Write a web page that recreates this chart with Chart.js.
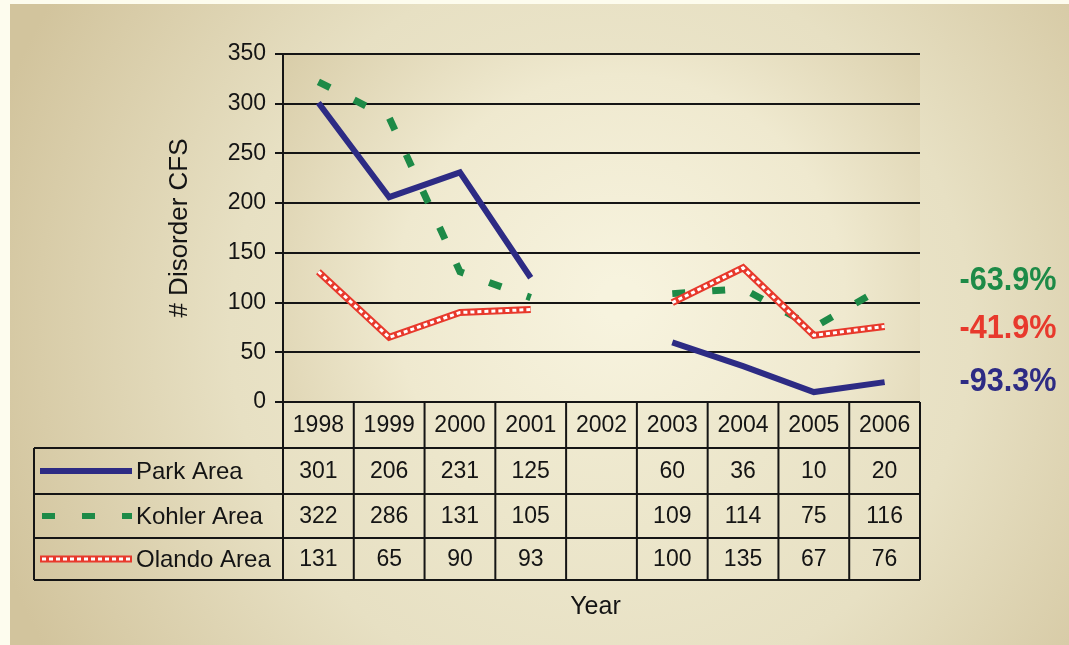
<!DOCTYPE html>
<html><head><meta charset="utf-8">
<script src="https://cdn.jsdelivr.net/npm/chart.js@4"></script>
<style>html,body{margin:0;padding:0;background:#fdfcee;}#wrap{width:1069px;height:645px;position:relative;}</style>
</head><body><div id="wrap"><canvas id="c" width="1069" height="645"></canvas></div>
<script>
const years = ['1998','1999','2000','2001','2002','2003','2004','2005','2006'];
const parkArea = [301,206,231,125,null,60,36,10,20];
const kohlerArea = [322,286,131,105,null,109,114,75,116];
const olandoArea = [131,65,90,93,null,100,135,67,76];
const seriesNames = ['Park Area','Kohler Area','Olando Area'];
const changeLabels = ['-63.9%','-41.9%','-93.3%'];
const yTicks = [0,50,100,150,200,250,300,350];

const NAVY='#2d2b84', GREEN='#1d8a47', RED='#e8392c';
const FONT='"Liberation Sans", Arial, sans-serif';
const TXT='#141414';

const bgPlugin = {
  id:'bg',
  beforeDraw(chart){
    const ctx=chart.ctx, W=chart.width, H=chart.height, a=chart.chartArea;
    ctx.save();
    ctx.fillStyle='#fdfcee'; ctx.fillRect(0,0,W,H);
    let g=ctx.createRadialGradient(600,330,40,600,330,640);
    g.addColorStop(0,'#f1ecd3'); g.addColorStop(0.55,'#e7e0c3'); g.addColorStop(1,'#d2c49d');
    ctx.fillStyle=g; ctx.fillRect(10,4,W-10,H-4);
    g=ctx.createRadialGradient(620,300,20,620,300,430);
    g.addColorStop(0,'#f7f3de'); g.addColorStop(0.5,'#efe9cf'); g.addColorStop(1,'#d7cba6');
    ctx.fillStyle=g; ctx.fillRect(a.left,a.top,a.right-a.left,a.bottom-a.top);
    ctx.restore();
  }
};

const tablePlugin = {
  id:'table',
  afterDraw(chart){
    const ctx=chart.ctx, a=chart.chartArea, xs=chart.scales.x;
    const n=years.length;
    const centers=years.map((_,i)=>xs.getPixelForValue(i));
    const bounds=[a.left];
    for(let i=0;i<n-1;i++) bounds.push((centers[i]+centers[i+1])/2);
    bounds.push(a.right);
    const rowH=[46,46,44,42];
    const rows=[a.bottom]; rowH.forEach(h=>rows.push(rows[rows.length-1]+h));
    const tableLeft=34;
    ctx.save();
    ctx.strokeStyle='#151515'; ctx.lineWidth=2;
    ctx.beginPath();
    bounds.forEach(x=>{ctx.moveTo(x,rows[0]);ctx.lineTo(x,rows[4]);});
    ctx.moveTo(tableLeft,rows[1]);ctx.lineTo(tableLeft,rows[4]);
    ctx.moveTo(a.left,rows[0]);ctx.lineTo(a.right,rows[0]);
    for(let r=1;r<=4;r++){ctx.moveTo(tableLeft,rows[r]);ctx.lineTo(a.right,rows[r]);}
    ctx.stroke();
    ctx.fillStyle=TXT; ctx.textAlign='center'; ctx.textBaseline='middle';
    ctx.font='23px '+FONT;
    const data=[parkArea,kohlerArea,olandoArea];
    years.forEach((y,i)=>ctx.fillText(y,centers[i],(rows[0]+rows[1])/2+1));
    data.forEach((arr,r)=>{
      arr.forEach((v,i)=>{ if(v!==null) ctx.fillText(String(v),centers[i],(rows[r+1]+rows[r+2])/2+1); });
    });
    ctx.textAlign='left'; ctx.font='24px '+FONT;
    const kx0=40, kx1=132;
    seriesNames.forEach((nm,r)=>{
      const yc=(rows[r+1]+rows[r+2])/2;
      ctx.fillStyle=TXT;
      ctx.fillText(nm,136,yc+1);
      ctx.beginPath(); ctx.lineCap='butt';
      if(r===0){ctx.strokeStyle=NAVY;ctx.lineWidth=6;ctx.setLineDash([]);ctx.moveTo(kx0,yc);ctx.lineTo(kx1,yc);ctx.stroke();}
      if(r===1){ctx.strokeStyle=GREEN;ctx.lineWidth=6;ctx.setLineDash([13,27]);ctx.moveTo(kx0+2,yc);ctx.lineTo(kx1,yc);ctx.stroke();}
      if(r===2){ctx.strokeStyle=RED;ctx.lineWidth=7;ctx.setLineDash([]);ctx.moveTo(kx0,yc);ctx.lineTo(kx1,yc);ctx.stroke();
        ctx.beginPath();ctx.strokeStyle='#ffffff';ctx.lineWidth=3;ctx.setLineDash([4,3]);ctx.moveTo(kx0+2,yc);ctx.lineTo(kx1-1,yc);ctx.stroke();}
      ctx.setLineDash([]);
    });
    ctx.fillStyle=TXT; ctx.textAlign='center'; ctx.font='25px '+FONT;
    ctx.fillText('Year',(a.left+a.right)/2-6,607);
    const pc=[GREEN,RED,NAVY]; const py=[280,328,381];
    ctx.font='bold 34px "Liberation Sans Narrow", "Arial Narrow", '+FONT;
    changeLabels.forEach((t,i)=>{
      const w=ctx.measureText(t).width; const sx=97/w;
      ctx.save(); ctx.translate(1008,py[i]); ctx.scale(sx,1);
      ctx.fillStyle=pc[i]; ctx.textAlign='center'; ctx.textBaseline='middle';
      ctx.fillText(t,0,1); ctx.restore();
    });
    ctx.restore();
  }
};

new Chart(document.getElementById('c'),{
  type:'line',
  data:{labels:years,datasets:[
    {label:seriesNames[2]+' dots',data:olandoArea,borderColor:'#ffffff',borderWidth:3,borderDash:[4,3],pointRadius:0,tension:0,order:0,spanGaps:false},
    {label:seriesNames[2],data:olandoArea,borderColor:RED,borderWidth:7,pointRadius:0,tension:0,order:1,borderJoinStyle:'miter',spanGaps:false},
    {label:seriesNames[1],data:kohlerArea,borderColor:GREEN,borderWidth:7,borderDash:[13,27],pointRadius:0,tension:0,order:2,spanGaps:false},
    {label:seriesNames[0],data:parkArea,borderColor:NAVY,borderWidth:6,pointRadius:0,tension:0,order:3,borderJoinStyle:'miter',spanGaps:false}
  ]},
  options:{
    responsive:false,animation:false,devicePixelRatio:1,
    layout:{padding:{left:160,right:149,top:54,bottom:0}},
    plugins:{legend:{display:false},tooltip:{enabled:false}},
    scales:{
      x:{type:'category',offset:true,grid:{display:false},ticks:{display:false},border:{display:false},
         afterFit(s){s.height=243;}},
      y:{min:0,max:350,
         afterBuildTicks(s){s.ticks=yTicks.map(v=>({value:v}));},
         ticks:{color:TXT,font:{size:23,family:FONT},padding:9},
         grid:{color:'#151515',lineWidth:2,tickLength:8},
         border:{display:true,color:'#151515',width:2},
         title:{display:true,text:'# Disorder CFS',color:TXT,font:{size:26,family:FONT}},
         afterFit(s){s.width=123;}}
    }
  },
  plugins:[bgPlugin,tablePlugin]
});
</script></body></html>
